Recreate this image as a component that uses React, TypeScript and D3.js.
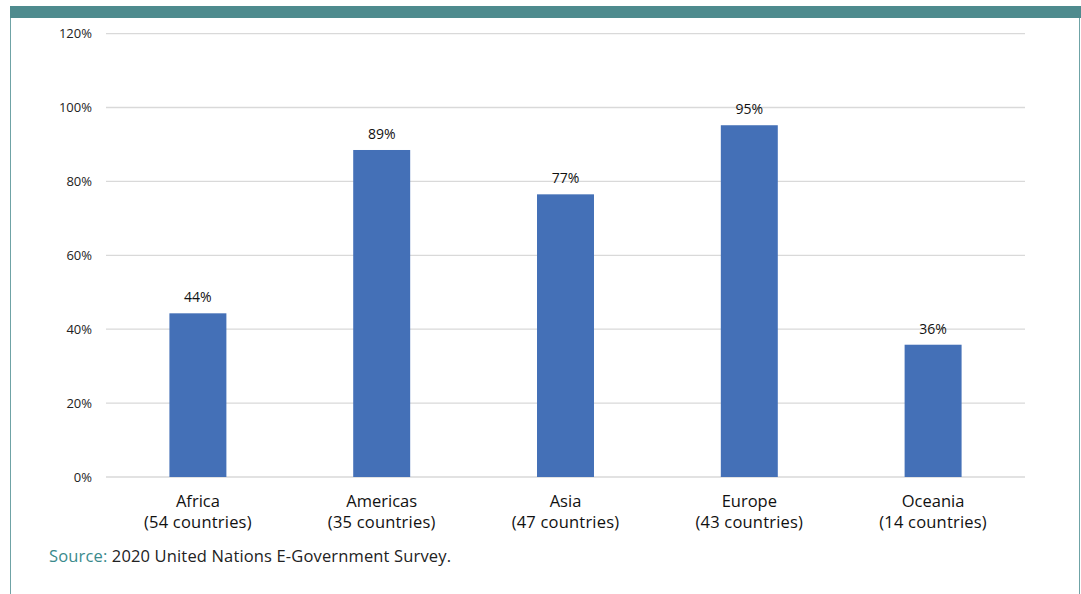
import React from "react";
import * as d3 from "d3";

const categories = ["Africa", "Americas", "Asia", "Europe", "Oceania"];
const countryCounts = ["(54 countries)", "(35 countries)", "(47 countries)", "(43 countries)", "(14 countries)"];
const values = [44.3, 88.5, 76.5, 95.2, 35.8];
const valueLabels = ["44%", "89%", "77%", "95%", "36%"];
const yTicks = [0, 20, 40, 60, 80, 100, 120];

const W = 1081;
const H = 594;
const FONT = "'Open Sans', 'Noto Sans', sans-serif";

export default function App() {
  const x = d3.scaleBand<string>().domain(categories).range([106, 1025]).paddingInner(0.69).paddingOuter(0.345);
  const y = d3.scaleLinear().domain([0, 120]).range([477, 33.6]);
  const bw = x.bandwidth();
  return (
    <svg width={W} height={H} style={{ position: "absolute", left: 0, top: 0, background: "#fff" }}>
      <rect x={0} y={0} width={W} height={H} fill="#fff" />
      <rect x={10} y={6} width={1071} height={12} fill="#4e8b8e" />
      <line x1={10.5} x2={10.5} y1={18} y2={H} stroke="#6fa3a6" strokeWidth={1} />
      <line x1={1079.5} x2={1079.5} y1={18} y2={H} stroke="#6fa3a6" strokeWidth={1} />
      {yTicks.map((t) => (
        <g key={t}>
          <line x1={106} x2={1025} y1={y(t)} y2={y(t)} stroke="#d9d9d9" strokeWidth={1.3} />
          <text x={92} y={y(t)} dy="0.35em" textAnchor="end" fontFamily={FONT} fontSize={13} fill="#222">
            {t}%
          </text>
        </g>
      ))}
      {categories.map((c, i) => {
        const cx = (x(c) as number) + bw / 2;
        return (
          <g key={c}>
            <rect x={x(c)} y={y(values[i])} width={bw} height={y(0) - y(values[i])} fill="#4470b7" />
            <text x={cx} y={y(values[i]) - 16} dy="0.35em" textAnchor="middle" fontFamily={FONT} fontSize={14} fill="#111">
              {valueLabels[i]}
            </text>
            <text x={cx} y={501} dy="0.35em" textAnchor="middle" fontFamily={FONT} fontSize={16.5} fill="#111">
              {c}
            </text>
            <text x={cx} y={522.5} dy="0.35em" textAnchor="middle" fontFamily={FONT} fontSize={16.5} letterSpacing={0.2} fill="#111">
              {countryCounts[i]}
            </text>
          </g>
        );
      })}
      <text x={49} y={556} dy="0.35em" fontFamily={FONT} fontSize={16.5} letterSpacing={0.15} fill="#222">
        <tspan fill="#3a8a8c">Source:</tspan> 2020 United Nations E-Government Survey.
      </text>
    </svg>
  );
}
